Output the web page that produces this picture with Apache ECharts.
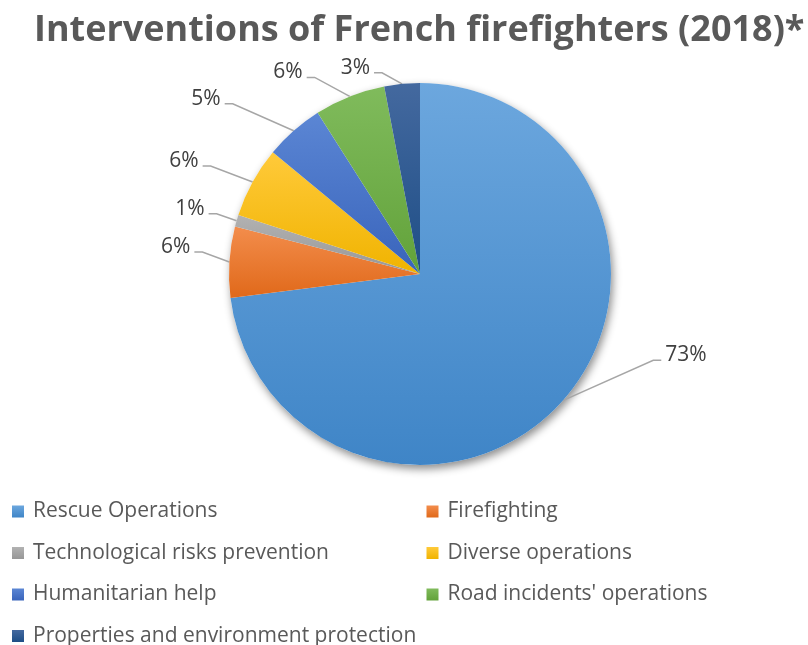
<!DOCTYPE html>
<html>
<head>
<meta charset="utf-8">
<script src="https://cdn.jsdelivr.net/npm/echarts@6/dist/echarts.min.js"></script>
<style>
html, body { margin: 0; padding: 0; background: #fff; }
#pie { width: 808px; height: 645px; }
</style>
</head>
<body>
<div id="pie"></div>
<script>
var categories = ['Rescue Operations', 'Firefighting', 'Technological risks prevention',
    'Diverse operations', 'Humanitarian help', "Road incidents' operations",
    'Properties and environment protection'];
var shares = [73, 6, 1, 6, 5, 6, 3];

// excel style: each slice a bit lighter on top, darker at the bottom
var colorTop = ['#6ca7de', '#f38d4c', '#b2b2b2', '#ffca3a', '#5b86d4', '#80bb5c', '#44699f'];
var colorBottom = ['#3f85c7', '#e0691a', '#979797', '#f0b300', '#3964bb', '#62a23a', '#1e4e86'];

// where each leader line bends, relative to the slice edge
var labelElbows = [[90, -40], [-27, -10], [-20, -7], [-42, -16], [-61, -27], [-35, -19], [-20, -11]];

var myChart = echarts.init(document.getElementById('pie'));

var total = shares.reduce(function (a, b) { return a + b; }, 0);

var pieData = categories.map(function (name, i) {
    return {
        name: name,
        value: shares[i],
        itemStyle: {
            color: {
                type: 'linear', x: 0, y: 0, x2: 0, y2: 1,
                colorStops: [
                    { offset: 0, color: colorTop[i] },
                    { offset: 1, color: colorBottom[i] }
                ]
            }
        }
    };
});

var legendData = categories.map(function (name, i) {
    return i % 2 === 0 ? { name: name, textStyle: { width: 373 } } : { name: name };
});

var option = {
    backgroundColor: '#ffffff',
    title: {
        text: 'Interventions of French firefighters (2018)*',
        left: 29,
        top: 8,
        textStyle: {
            fontFamily: 'Open Sans',
            fontWeight: 'bold',
            fontSize: 36,
            color: '#595959'
        }
    },
    legend: {
        data: legendData,
        left: 12,
        top: 501,
        width: 800,
        padding: 0,
        icon: 'rect',
        itemWidth: 12,
        itemHeight: 12,
        itemGap: 20.5,
        textStyle: {
            fontFamily: 'Open Sans',
            fontSize: 21,
            lineHeight: 20,
            color: '#595959',
            padding: [0, 0, 0, 4]
        }
    },
    series: [
        {
            // shadow under the whole pie
            name: 'shadow',
            type: 'pie',
            z: 1,
            silent: true,
            center: [420, 274],
            radius: 191,
            label: { show: false },
            labelLine: { show: false },
            itemStyle: {
                color: '#ffffff',
                shadowBlur: 8,
                shadowOffsetX: 2,
                shadowOffsetY: 4,
                shadowColor: 'rgba(0,0,0,0.45)'
            },
            data: [{ name: 'total', value: total }]
        },
        {
            name: 'Interventions',
            type: 'pie',
            z: 2,
            center: [420, 274],
            radius: 191,
            startAngle: 90,
            clockwise: true,
            avoidLabelOverlap: false,
            data: pieData,
            label: {
                show: true,
                position: 'outside',
                formatter: '{c}%',
                fontFamily: 'Open Sans',
                fontSize: 21,
                color: '#404040'
            },
            labelLine: {
                show: true,
                length: 10,
                length2: 8,
                lineStyle: { color: '#a6a6a6', width: 1.5 }
            },
            labelLayout: function (params) {
                var p0 = params.labelLinePoints[0];
                var off = labelElbows[params.dataIndex];
                var side = off[0] > 0 ? 1 : -1;
                var p1 = [p0[0] + off[0], p0[1] + off[1]];
                var p2 = [p1[0] + side * 8, p1[1]];
                return {
                    x: p2[0] + side * 4,
                    y: p2[1] - 5,
                    align: side > 0 ? 'left' : 'right',
                    verticalAlign: 'middle',
                    labelLinePoints: [p0, p1, p2]
                };
            }
        }
    ]
};
myChart.setOption(option);
</script>
</body>
</html>
